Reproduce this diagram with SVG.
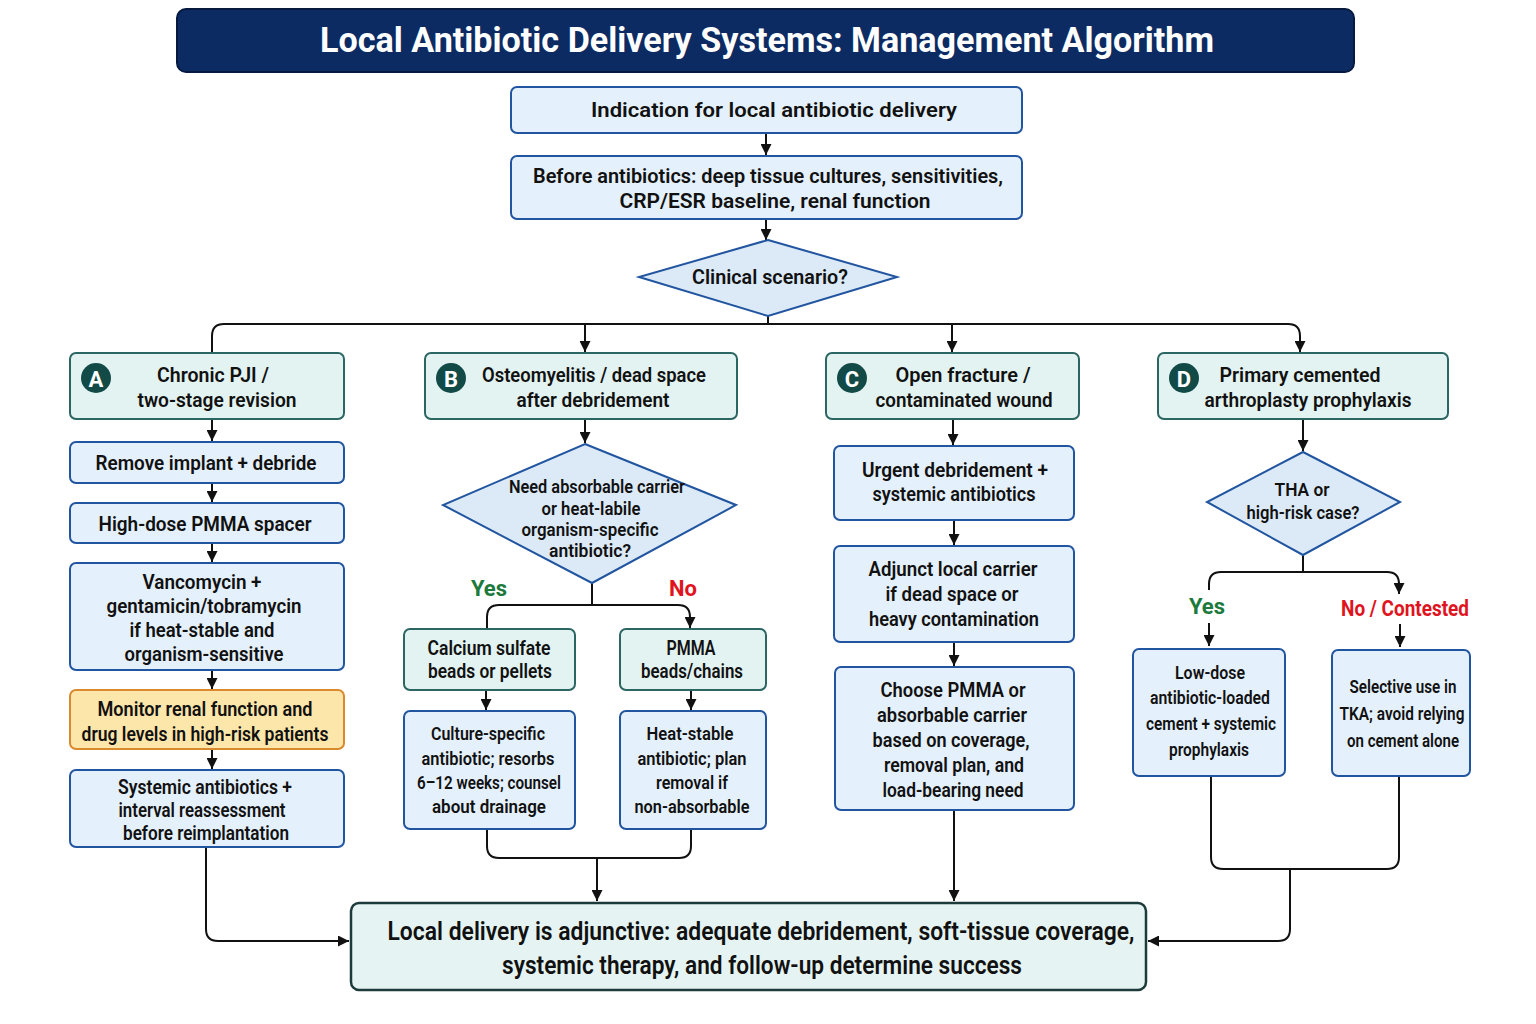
<svg xmlns="http://www.w3.org/2000/svg" width="1536" height="1024" viewBox="0 0 1536 1024">
<defs>
<marker id="ah" viewBox="0 0 10 10" refX="10" refY="5" markerUnits="userSpaceOnUse" markerWidth="11" markerHeight="11" orient="auto">
<path d="M0,0 L10,5 L0,10 z" fill="#111"/>
</marker>
<style>
.t{font-family:Roboto,"Liberation Sans",sans-serif;font-weight:600;font-size:20px;fill:#111;text-anchor:middle;dominant-baseline:central}
.sm{font-size:18px}
.cd{font-size:19px}
.blue{fill:#e4f0fb;stroke:#2255a0;stroke-width:2}
.teal{fill:#e3f3f1;stroke:#2b6663;stroke-width:2}
.orange{fill:#fde6aa;stroke:#d98a2e;stroke-width:2}
.dia{fill:#dceaf7;stroke:#2255a0;stroke-width:2}
.badge{fill:#124a47}
.bl{font-family:Roboto,"Liberation Sans",sans-serif;font-weight:700;font-size:22px;fill:#fff;text-anchor:middle;dominant-baseline:central}
.c{fill:none;stroke:#111;stroke-width:2}
.a{marker-end:url(#ah)}
.yes{fill:#1b7a3c;font-weight:700;font-size:22px}
.no{fill:#e0141e;font-weight:700;font-size:22px}
</style>
</defs>
<rect width="1536" height="1024" fill="#ffffff"/>

<g id="title">
<rect x="177" y="9" width="1177" height="63" rx="9" fill="#0d2b63" stroke="#061a40" stroke-width="2"/>
<text class="t" x="767" y="40" style="fill:#fff;font-size:35px;font-weight:700" textLength="894" lengthAdjust="spacingAndGlyphs">Local Antibiotic Delivery Systems: Management Algorithm</text>
</g>

<g id="connectors">
<path class="c a" d="M766,133 V155"/>
<path class="c a" d="M766,219 V240"/>
<path class="c" d="M768,316 V324"/>
<path class="c a" d="M212,352 V336 Q212,324 224,324 H1288 Q1300,324 1300,336 V352"/>
<path class="c a" d="M585,324 V352"/>
<path class="c a" d="M952,324 V352"/>
<path class="c a" d="M212,419 V441"/>
<path class="c a" d="M212,483 V502"/>
<path class="c a" d="M212,543 V562"/>
<path class="c a" d="M212,670 V689"/>
<path class="c a" d="M212,749 V769"/>
<path class="c a" d="M206,847 V929 Q206,941 218,941 H349"/>
<path class="c a" d="M585,419 V443"/>
<path class="c" d="M592,583 V605"/>
<path class="c a" d="M487,628 V617 Q487,605 499,605 H678 Q690,605 690,617 V628"/>
<path class="c a" d="M486,690 V710"/>
<path class="c a" d="M691,690 V710"/>
<path class="c" d="M487,829 V846 Q487,858 499,858 H679 Q691,858 691,846 V829"/>
<path class="c a" d="M597,858 V901"/>
<path class="c a" d="M953,419 V445"/>
<path class="c a" d="M954,520 V545"/>
<path class="c a" d="M954,642 V666"/>
<path class="c a" d="M954,810 V901"/>
<path class="c a" d="M1303,419 V451"/>
<path class="c" d="M1303,555 V572"/>
<path class="c" d="M1209,590 V584 Q1209,572 1221,572 H1387 Q1399,572 1399,584"/>
<path class="c a" d="M1399,582 V594"/>
<path class="c a" d="M1209,623 V646"/>
<path class="c a" d="M1400,624 V647"/>
<path class="c" d="M1211,776 V857 Q1211,869 1223,869 H1387 Q1399,869 1399,857 V776"/>
<path class="c a" d="M1290,869 V929 Q1290,941 1278,941 H1148"/>
<text class="t yes" x="489" y="588">Yes</text>
<text class="t no" x="683" y="588">No</text>
<text class="t yes" x="1207" y="606">Yes</text>
<text class="t no" x="1405" y="608" textLength="128" lengthAdjust="spacingAndGlyphs">No / Contested</text>
</g>

<g id="indication">
<rect class="blue" x="511" y="87" width="511" height="46" rx="6"/>
<text class="t" x="774" y="110" textLength="366" lengthAdjust="spacingAndGlyphs">Indication for local antibiotic delivery</text>
</g>
<g id="before">
<rect class="blue" x="511" y="156" width="511" height="63" rx="6"/>
<text class="t" x="768" y="176" textLength="470" lengthAdjust="spacingAndGlyphs">Before antibiotics: deep tissue cultures, sensitivities,</text>
<text class="t" x="775" y="201" textLength="311" lengthAdjust="spacingAndGlyphs">CRP/ESR baseline, renal function</text>
</g>
<g id="scenario">
<polygon class="dia" points="768,240 897,277 768,316 639,277"/>
<text class="t" x="770" y="277" textLength="156" lengthAdjust="spacingAndGlyphs">Clinical scenario?</text>
</g>

<g id="nodeA">
<rect class="teal" x="70" y="353" width="274" height="66" rx="6"/>
<circle class="badge" cx="96" cy="378" r="15"/>
<text class="bl" x="96" y="379">A</text>
<text class="t" x="213" y="375" textLength="112" lengthAdjust="spacingAndGlyphs">Chronic PJI /</text>
<text class="t" x="217" y="400" textLength="159" lengthAdjust="spacingAndGlyphs">two-stage revision</text>
</g>
<g id="removeImplant">
<rect class="blue" x="70" y="442" width="274" height="41" rx="6"/>
<text class="t" x="206" y="463" textLength="221" lengthAdjust="spacingAndGlyphs">Remove implant + debride</text>
</g>
<g id="spacer">
<rect class="blue" x="70" y="503" width="274" height="40" rx="6"/>
<text class="t" x="205" y="524" textLength="213" lengthAdjust="spacingAndGlyphs">High-dose PMMA spacer</text>
</g>
<g id="vancomycin">
<rect class="blue" x="70" y="563" width="274" height="107" rx="6"/>
<text class="t" x="202" y="582" textLength="119" lengthAdjust="spacingAndGlyphs">Vancomycin +</text>
<text class="t" x="204" y="606" textLength="195" lengthAdjust="spacingAndGlyphs">gentamicin/tobramycin</text>
<text class="t" x="202" y="630" textLength="145" lengthAdjust="spacingAndGlyphs">if heat-stable and</text>
<text class="t" x="204" y="654" textLength="159" lengthAdjust="spacingAndGlyphs">organism-sensitive</text>
</g>
<g id="monitor">
<rect class="orange" x="70" y="690" width="274" height="59" rx="6"/>
<text class="t" x="205" y="709" textLength="215" lengthAdjust="spacingAndGlyphs">Monitor renal function and</text>
<text class="t" x="205" y="734" textLength="247" lengthAdjust="spacingAndGlyphs">drug levels in high-risk patients</text>
</g>
<g id="systemicA">
<rect class="blue" x="70" y="770" width="274" height="77" rx="6"/>
<text class="t" x="205" y="787" textLength="174" lengthAdjust="spacingAndGlyphs">Systemic antibiotics +</text>
<text class="t" x="202" y="810" textLength="167" lengthAdjust="spacingAndGlyphs">interval reassessment</text>
<text class="t" x="206" y="833" textLength="166" lengthAdjust="spacingAndGlyphs">before reimplantation</text>
</g>

<g id="nodeB">
<rect class="teal" x="425" y="353" width="312" height="66" rx="6"/>
<circle class="badge" cx="451" cy="378" r="15"/>
<text class="bl" x="451" y="379">B</text>
<text class="t" x="594" y="375" textLength="224" lengthAdjust="spacingAndGlyphs">Osteomyelitis / dead space</text>
<text class="t" x="593" y="400" textLength="153" lengthAdjust="spacingAndGlyphs">after debridement</text>
</g>
<g id="needAbsorbable">
<polygon class="dia" points="585,444 736,505 592,583 443,505"/>
<text class="t sm" x="597" y="486" textLength="176" lengthAdjust="spacingAndGlyphs">Need absorbable carrier</text>
<text class="t sm" x="591" y="508" textLength="99" lengthAdjust="spacingAndGlyphs">or heat-labile</text>
<text class="t sm" x="590" y="529" textLength="137" lengthAdjust="spacingAndGlyphs">organism-specific</text>
<text class="t sm" x="590" y="550" textLength="82" lengthAdjust="spacingAndGlyphs">antibiotic?</text>
</g>
<g id="calciumSulfate">
<rect class="teal" x="404" y="629" width="171" height="61" rx="6"/>
<text class="t" x="489" y="648" textLength="123" lengthAdjust="spacingAndGlyphs">Calcium sulfate</text>
<text class="t" x="490" y="671" textLength="124" lengthAdjust="spacingAndGlyphs">beads or pellets</text>
</g>
<g id="pmmaBeads">
<rect class="teal" x="620" y="629" width="146" height="61" rx="6"/>
<text class="t" x="691" y="648" textLength="49" lengthAdjust="spacingAndGlyphs">PMMA</text>
<text class="t" x="692" y="671" textLength="102" lengthAdjust="spacingAndGlyphs">beads/chains</text>
</g>
<g id="cultureSpecific">
<rect class="blue" x="404" y="711" width="171" height="118" rx="6"/>
<text class="t cd" x="488" y="733" textLength="114" lengthAdjust="spacingAndGlyphs">Culture-specific</text>
<text class="t cd" x="488" y="758" textLength="133" lengthAdjust="spacingAndGlyphs">antibiotic; resorbs</text>
<text class="t cd" x="489" y="782" textLength="144" lengthAdjust="spacingAndGlyphs">6–12 weeks; counsel</text>
<text class="t cd" x="489" y="806" textLength="114" lengthAdjust="spacingAndGlyphs">about drainage</text>
</g>
<g id="heatStable">
<rect class="blue" x="620" y="711" width="146" height="118" rx="6"/>
<text class="t cd" x="690" y="733" textLength="87" lengthAdjust="spacingAndGlyphs">Heat-stable</text>
<text class="t cd" x="692" y="758" textLength="109" lengthAdjust="spacingAndGlyphs">antibiotic; plan</text>
<text class="t cd" x="692" y="782" textLength="72" lengthAdjust="spacingAndGlyphs">removal if</text>
<text class="t cd" x="692" y="806" textLength="115" lengthAdjust="spacingAndGlyphs">non-absorbable</text>
</g>

<g id="nodeC">
<rect class="teal" x="826" y="353" width="253" height="66" rx="6"/>
<circle class="badge" cx="852" cy="378" r="15"/>
<text class="bl" x="852" y="379">C</text>
<text class="t" x="963" y="375" textLength="135" lengthAdjust="spacingAndGlyphs">Open fracture /</text>
<text class="t" x="964" y="400" textLength="177" lengthAdjust="spacingAndGlyphs">contaminated wound</text>
</g>
<g id="urgent">
<rect class="blue" x="834" y="446" width="240" height="74" rx="6"/>
<text class="t" x="955" y="470" textLength="186" lengthAdjust="spacingAndGlyphs">Urgent debridement +</text>
<text class="t" x="954" y="494" textLength="163" lengthAdjust="spacingAndGlyphs">systemic antibiotics</text>
</g>
<g id="adjunct">
<rect class="blue" x="834" y="546" width="240" height="96" rx="6"/>
<text class="t" x="953" y="569" textLength="169" lengthAdjust="spacingAndGlyphs">Adjunct local carrier</text>
<text class="t" x="952" y="594" textLength="133" lengthAdjust="spacingAndGlyphs">if dead space or</text>
<text class="t" x="954" y="619" textLength="170" lengthAdjust="spacingAndGlyphs">heavy contamination</text>
</g>
<g id="choose">
<rect class="blue" x="835" y="667" width="239" height="143" rx="6"/>
<text class="t" x="953" y="690" textLength="145" lengthAdjust="spacingAndGlyphs">Choose PMMA or</text>
<text class="t" x="952" y="715" textLength="150" lengthAdjust="spacingAndGlyphs">absorbable carrier</text>
<text class="t" x="951" y="740" textLength="157" lengthAdjust="spacingAndGlyphs">based on coverage,</text>
<text class="t" x="954" y="765" textLength="140" lengthAdjust="spacingAndGlyphs">removal plan, and</text>
<text class="t" x="953" y="790" textLength="141" lengthAdjust="spacingAndGlyphs">load-bearing need</text>
</g>

<g id="nodeD">
<rect class="teal" x="1158" y="353" width="290" height="66" rx="6"/>
<circle class="badge" cx="1184" cy="378" r="15"/>
<text class="bl" x="1184" y="379">D</text>
<text class="t" x="1300" y="375" textLength="161" lengthAdjust="spacingAndGlyphs">Primary cemented</text>
<text class="t" x="1308" y="400" textLength="207" lengthAdjust="spacingAndGlyphs">arthroplasty prophylaxis</text>
</g>
<g id="thaDecision">
<polygon class="dia" points="1303,452 1400,502 1303,555 1207,502"/>
<text class="t sm" x="1302" y="489" textLength="55" lengthAdjust="spacingAndGlyphs">THA or</text>
<text class="t sm" x="1303" y="512" textLength="113" lengthAdjust="spacingAndGlyphs">high-risk case?</text>
</g>
<g id="lowDose">
<rect class="blue" x="1133" y="649" width="152" height="127" rx="6"/>
<text class="t cd" x="1210" y="672" textLength="70" lengthAdjust="spacingAndGlyphs">Low-dose</text>
<text class="t cd" x="1210" y="697" textLength="120" lengthAdjust="spacingAndGlyphs">antibiotic-loaded</text>
<text class="t cd" x="1211" y="723" textLength="130" lengthAdjust="spacingAndGlyphs">cement + systemic</text>
<text class="t cd" x="1209" y="749" textLength="80" lengthAdjust="spacingAndGlyphs">prophylaxis</text>
</g>
<g id="selective">
<rect class="blue" x="1332" y="650" width="138" height="126" rx="6"/>
<text class="t cd" x="1403" y="686" textLength="107" lengthAdjust="spacingAndGlyphs">Selective use in</text>
<text class="t cd" x="1402" y="713" textLength="125" lengthAdjust="spacingAndGlyphs">TKA; avoid relying</text>
<text class="t cd" x="1403" y="740" textLength="112" lengthAdjust="spacingAndGlyphs">on cement alone</text>
</g>

<g id="final">
<rect x="351" y="903" width="795" height="87" rx="8" fill="#e5f4f3" stroke="#1d3b3b" stroke-width="2.5"/>
<text class="t" x="761" y="931" style="font-size:26px" textLength="747" lengthAdjust="spacingAndGlyphs">Local delivery is adjunctive: adequate debridement, soft-tissue coverage,</text>
<text class="t" x="762" y="965" style="font-size:26px" textLength="520" lengthAdjust="spacingAndGlyphs">systemic therapy, and follow-up determine success</text>
</g>
</svg>
